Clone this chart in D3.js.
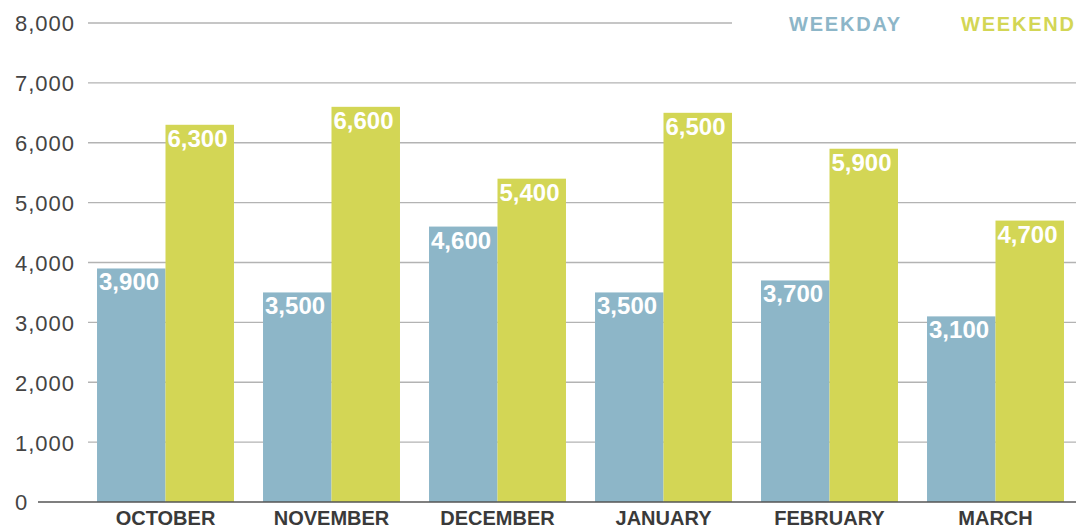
<!DOCTYPE html>
<html><head><meta charset="utf-8">
<script src="https://cdn.jsdelivr.net/npm/d3@7"></script>
<style>body{margin:0;background:#fff}svg{display:block}</style>
</head><body><svg id="c" width="1076" height="529"></svg>
<script>
const months = ["OCTOBER","NOVEMBER","DECEMBER","JANUARY","FEBRUARY","MARCH"];
const series = ["WEEKDAY","WEEKEND"];
const weekday = [3900,3500,4600,3500,3700,3100];
const weekend = [6300,6600,5400,6500,5900,4700];
const yTicks = [0,1000,2000,3000,4000,5000,6000,7000,8000];
const colors = ["#8db6c8","#d3d655"];

const svg = d3.select("#c");
const y = d3.scaleLinear().domain([0,8000]).range([502,23]);
const x = d3.scaleBand().domain(months).range([82.5,1078.5]).paddingInner(0.175).paddingOuter(0.0875);
const xs = d3.scaleBand().domain(series).range([0,x.bandwidth()]);
const fmt = d3.format(",");

// gridlines
const grid = svg.append("g");
yTicks.filter(t=>t>0).forEach(t=>{
  grid.append("line").attr("x1",88).attr("x2", t===8000?732:1076)
    .attr("y1",y(t)).attr("y2",y(t)).attr("stroke","#b3b3b3").attr("stroke-width",1.4);
});
// y labels (left-aligned)
const yAxis = d3.axisLeft(y).tickValues(yTicks).tickFormat(fmt).tickSize(0).tickPadding(0);
const ya = svg.append("g").attr("transform","translate(15,0)").call(yAxis);
ya.select(".domain").remove();
ya.selectAll("text").attr("text-anchor","start").attr("x",0).attr("font-family","Liberation Sans, Arial, sans-serif")
  .attr("font-size",22).attr("letter-spacing","1px").attr("fill","#444").attr("dy","0.36em");

const data = months.map((m,i)=>({m, vals:[weekday[i],weekend[i]]}));
const g = svg.append("g").selectAll("g").data(data).join("g").attr("transform",d=>`translate(${x(d.m)},0)`);
g.selectAll("rect").data(d=>d.vals.map((v,j)=>({s:series[j],v,j}))).join("rect")
  .attr("x",d=>xs(d.s)).attr("width",xs.bandwidth()).attr("y",d=>y(d.v)).attr("height",d=>y(0)-y(d.v)).attr("fill",d=>colors[d.j]);
g.selectAll("text").data(d=>d.vals.map((v,j)=>({s:series[j],v,j}))).join("text")
  .attr("x",d=>xs(d.s)+2).attr("y",d=>y(d.v)+22).text(d=>fmt(d.v))
  .attr("font-family","Liberation Sans, Arial, sans-serif").attr("font-weight","bold").attr("font-size",24).attr("fill","#fff");

// baseline
svg.append("line").attr("x1",38).attr("x2",1076).attr("y1",y(0)).attr("y2",y(0)).attr("stroke","#555").attr("stroke-width",1.5);

// x labels
const xAxis = d3.axisBottom(x).tickSize(0).tickPadding(0);
const xa = svg.append("g").call(xAxis);
xa.select(".domain").remove();
xa.selectAll("text").attr("y",525).attr("dy",null).attr("font-family","Liberation Sans, Arial, sans-serif").attr("font-weight","bold").attr("font-size",20).attr("fill","#3a3a3a");

// legend
const leg = [{t:series[0],x:789,c:colors[0]},{t:series[1],x:961,c:colors[1]}];
svg.selectAll(".leg").data(leg).join("text").attr("class","leg").attr("x",d=>d.x).attr("y",31).text(d=>d.t)
  .attr("font-family","Liberation Sans, Arial, sans-serif").attr("font-weight","bold").attr("font-size",20).attr("letter-spacing","1.8px").attr("fill",d=>d.c);
</script></body></html>
